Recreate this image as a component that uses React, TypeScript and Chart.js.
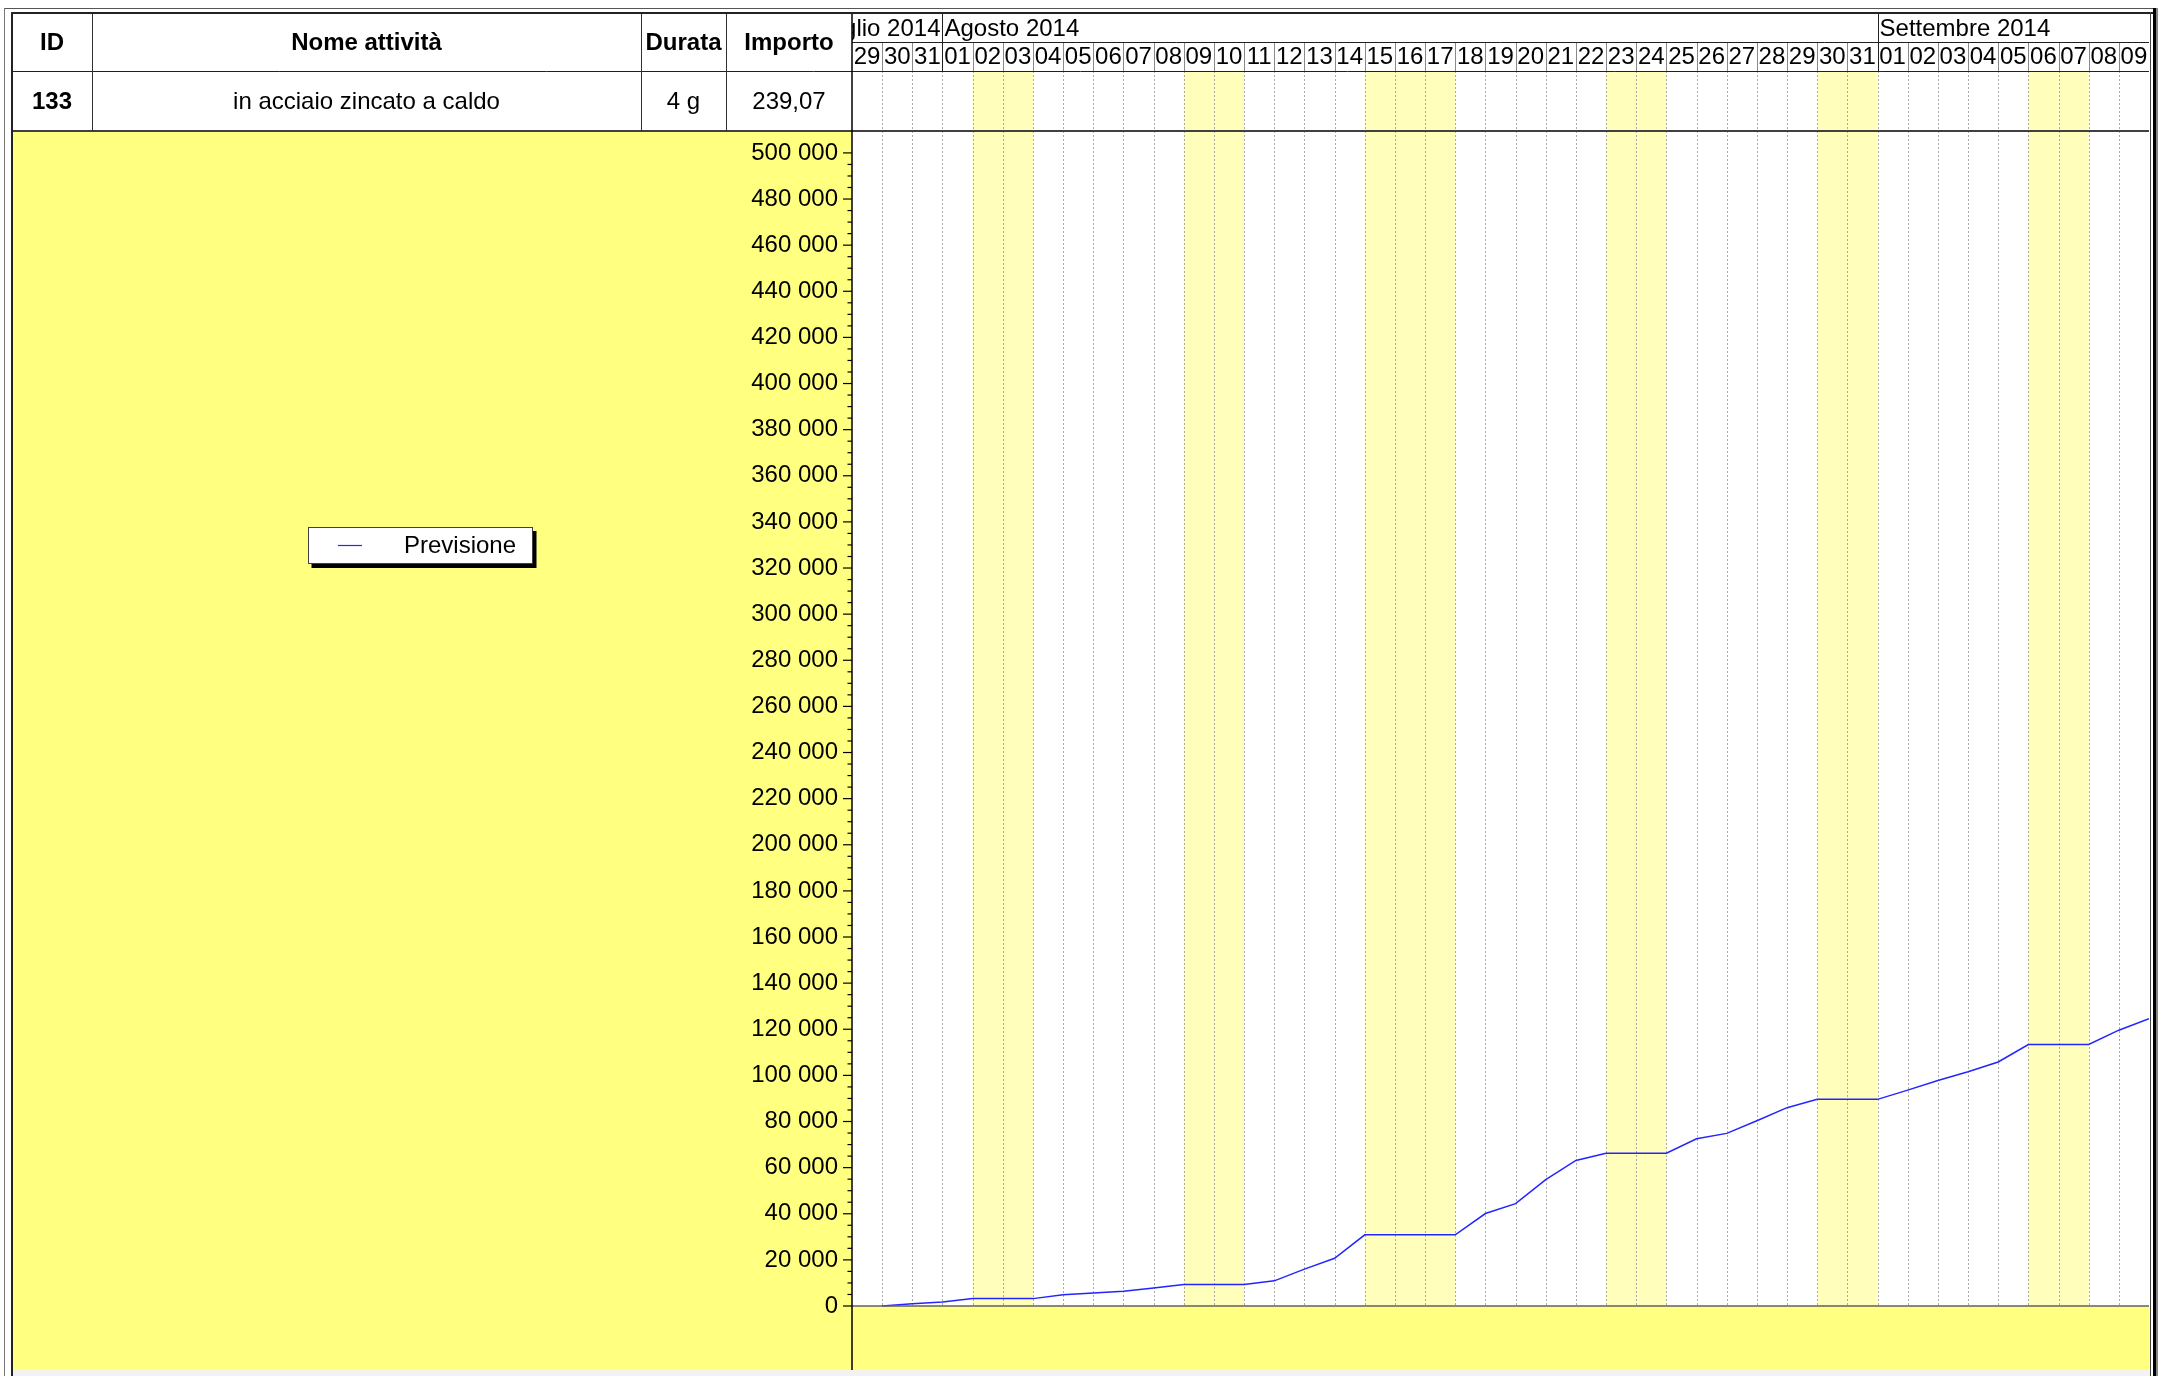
import React, { useEffect, useRef } from "react";
import { Chart, registerables } from "chart.js";

Chart.register(...registerables);

const FONT = '"Liberation Sans", Arial, Helvetica, sans-serif';
const FS = 24;

// ---- data ----
const headerColumns = ["ID", "Nome attività", "Durata", "Importo"];
const taskRow = ["133", "in acciaio zincato a caldo", "4 g", "239,07"];
const monthLabels = ["Luglio 2014", "Agosto 2014", "Settembre 2014"];
const monthDayCounts = [3, 31, 9];
const dayLabels = [
  "29", "30", "31",
  "01", "02", "03", "04", "05", "06", "07", "08", "09", "10",
  "11", "12", "13", "14", "15", "16", "17", "18", "19", "20",
  "21", "22", "23", "24", "25", "26", "27", "28", "29", "30", "31",
  "01", "02", "03", "04", "05", "06", "07", "08", "09",
];
// column indexes of non-working days (weekends + Ferragosto)
const nonWorkingDays = [4, 5, 11, 12, 17, 18, 19, 25, 26, 32, 33, 39, 40];
// cumulative forecast at the end of each day column
const previsione = [
  0, 1000, 1700, 3200, 3200, 3200, 4900, 5600, 6400, 7800,
  9300, 9300, 9300, 10900, 16000, 20700, 30850, 30850, 30850, 30850,
  40100, 44400, 54800, 63100, 66250, 66250, 66250, 72500, 74850, 80300,
  86000, 89600, 89600, 89600, 93600, 97800, 101600, 105800, 113400, 113400,
  113400, 119600, 124600,
];
const yTickValues = [
  0, 20000, 40000, 60000, 80000, 100000, 120000, 140000, 160000, 180000,
  200000, 220000, 240000, 260000, 280000, 300000, 320000, 340000, 360000,
  380000, 400000, 420000, 440000, 460000, 480000, 500000,
];
const seriesLabel = "Previsione";
const seriesColor = "#2424ff";

// ---- layout (page pixels) ----
const CANVAS_LEFT = 12;
const CANVAS_TOP = 13;
const CANVAS_W = 2138;
const CANVAS_H = 1357;
const MONTH_BOTTOM = 29; // canvas coords
const DAY_BOTTOM = 58;
const ROW_BOTTOM = 118;
const tableEdges = [12, 92, 641, 726, 852]; // page x
const Y_MIN = -27750;
const Y_MAX = 509500;

const fmt = (v: number) => String(v).replace(/\B(?=(\d{3})+(?!\d))/g, " ");

const ganttPlugin = {
  id: "gantt",
  beforeDraw(chart: any) {
    const { ctx, chartArea: ca, scales } = chart;
    const x = scales.x;
    const y = scales.y;
    const n = dayLabels.length;
    const x0 = x.getPixelForValue(0);
    const x1 = x.getPixelForValue(n);
    const zeroY = y.getPixelForValue(0);
    ctx.save();
    // left yellow panel
    ctx.fillStyle = "#ffff80";
    ctx.fillRect(0, ca.top, ca.left, ca.bottom - ca.top);
    // gantt white
    ctx.fillStyle = "#ffffff";
    ctx.fillRect(x0, 0, x1 - x0, zeroY);
    // non working days
    ctx.fillStyle = "#ffffbb";
    nonWorkingDays.forEach((i) => {
      const a = x.getPixelForValue(i);
      const b = x.getPixelForValue(i + 1);
      ctx.fillRect(a, DAY_BOTTOM, b - a, zeroY - DAY_BOTTOM);
    });
    // below zero
    ctx.fillStyle = "#ffff80";
    ctx.fillRect(x0, zeroY, x1 - x0, ca.bottom - zeroY);
    // dashed day lines
    ctx.strokeStyle = "#a8a8a8";
    ctx.lineWidth = 1;
    ctx.setLineDash([2, 2]);
    for (let i = 1; i < n; i++) {
      const px = Math.round(x.getPixelForValue(i)) + 0.5;
      ctx.beginPath();
      ctx.moveTo(px, DAY_BOTTOM);
      ctx.lineTo(px, zeroY);
      ctx.stroke();
    }
    ctx.setLineDash([]);
    // day header separators
    const monthBounds: number[] = [];
    let acc = 0;
    monthDayCounts.forEach((c) => {
      acc += c;
      monthBounds.push(acc);
    });
    for (let i = 1; i < n; i++) {
      const px = Math.round(x.getPixelForValue(i)) + 0.5;
      const isMonth = monthBounds.includes(i);
      ctx.strokeStyle = isMonth ? "#202020" : "#8a8a8a";
      ctx.beginPath();
      ctx.moveTo(px, isMonth ? 0 : MONTH_BOTTOM);
      ctx.lineTo(px, DAY_BOTTOM);
      ctx.stroke();
    }
    // day labels
    ctx.fillStyle = "#000";
    ctx.font = `${FS}px ${FONT}`;
    ctx.textAlign = "center";
    ctx.textBaseline = "middle";
    dayLabels.forEach((d, i) => {
      ctx.fillText(d, x.getPixelForValue(i + 0.5), (MONTH_BOTTOM + DAY_BOTTOM) / 2 + 1);
    });
    // month labels
    let start = 0;
    monthLabels.forEach((m, k) => {
      const a = x.getPixelForValue(start);
      const b = x.getPixelForValue(start + monthDayCounts[k]);
      ctx.save();
      ctx.beginPath();
      ctx.rect(a, 0, b - a, MONTH_BOTTOM);
      ctx.clip();
      const w = ctx.measureText(m).width;
      if (w > b - a - 4) {
        ctx.textAlign = "right";
        ctx.fillText(m, b - 2, 16);
      } else {
        ctx.textAlign = "left";
        ctx.fillText(m, a + 2, 16);
      }
      ctx.restore();
      start += monthDayCounts[k];
    });
    ctx.restore();
  },
  afterDraw(chart: any) {
    const { ctx, chartArea: ca, scales } = chart;
    const x = scales.x;
    const y = scales.y;
    const x0 = x.getPixelForValue(0);
    const x1 = x.getPixelForValue(dayLabels.length);
    const zeroY = y.getPixelForValue(0);
    ctx.save();
    // zero line
    ctx.strokeStyle = "#606060";
    ctx.lineWidth = 1.5;
    ctx.beginPath();
    ctx.moveTo(x0, zeroY);
    ctx.lineTo(x1, zeroY);
    ctx.stroke();
    // header horizontal lines
    ctx.strokeStyle = "#202020";
    ctx.lineWidth = 1;
    ctx.beginPath();
    ctx.moveTo(x0, MONTH_BOTTOM + 0.5);
    ctx.lineTo(x1, MONTH_BOTTOM + 0.5);
    ctx.moveTo(0, DAY_BOTTOM + 0.5);
    ctx.lineTo(x1, DAY_BOTTOM + 0.5);
    ctx.stroke();
    ctx.strokeStyle = "#404040";
    ctx.lineWidth = 2;
    ctx.beginPath();
    ctx.moveTo(0, ROW_BOTTOM);
    ctx.lineTo(x1, ROW_BOTTOM);
    ctx.stroke();
    // table vertical lines
    ctx.strokeStyle = "#303030";
    ctx.lineWidth = 1;
    tableEdges.slice(1, 4).forEach((px) => {
      const cx = px - CANVAS_LEFT + 0.5;
      ctx.beginPath();
      ctx.moveTo(cx, 0);
      ctx.lineTo(cx, ROW_BOTTOM);
      ctx.stroke();
    });
    // y axis line
    ctx.strokeStyle = "#000";
    ctx.lineWidth = 1.5;
    ctx.beginPath();
    ctx.moveTo(ca.left, 0);
    ctx.lineTo(ca.left, ca.bottom);
    ctx.stroke();
    // ticks
    ctx.lineWidth = 1.2;
    for (let k = 0; k < yTickValues.length; k++) {
      const v = yTickValues[k];
      const py = y.getPixelForValue(v);
      ctx.beginPath();
      ctx.moveTo(ca.left - 9, py);
      ctx.lineTo(ca.left, py);
      ctx.stroke();
      if (k < yTickValues.length - 1) {
        const step = (yTickValues[k + 1] - v) / 4;
        for (let q = 1; q < 4; q++) {
          const pq = y.getPixelForValue(v + step * q);
          ctx.beginPath();
          ctx.moveTo(ca.left - 4.5, pq);
          ctx.lineTo(ca.left, pq);
          ctx.stroke();
        }
      }
    }
    // legend
    const ds = chart.data.datasets[0];
    const lx = 296;
    const ly = 514;
    const lw = 225;
    const lh = 37;
    ctx.fillStyle = "#000";
    ctx.fillRect(lx + 3.5, ly + 4, lw, lh);
    ctx.fillStyle = "#fff";
    ctx.fillRect(lx, ly, lw, lh);
    ctx.strokeStyle = "#404040";
    ctx.lineWidth = 1;
    ctx.strokeRect(lx + 0.5, ly + 0.5, lw - 1, lh - 1);
    ctx.strokeStyle = ds.borderColor;
    ctx.lineWidth = 1.2;
    ctx.beginPath();
    ctx.moveTo(lx + 30, ly + lh / 2);
    ctx.lineTo(lx + 54, ly + lh / 2);
    ctx.stroke();
    ctx.fillStyle = "#000";
    ctx.font = `${FS}px ${FONT}`;
    ctx.textAlign = "left";
    ctx.textBaseline = "middle";
    ctx.fillText(ds.label, lx + 96, ly + lh / 2 + 1);
    ctx.restore();
  },
};

function Cell(props: { x0: number; x1: number; y0: number; y1: number; text: string; bold?: boolean }) {
  const { x0, x1, y0, y1, text, bold } = props;
  return (
    <div
      style={{
        position: "absolute",
        left: x0,
        top: y0,
        width: x1 - x0,
        height: y1 - y0,
        display: "flex",
        alignItems: "center",
        justifyContent: "center",
        font: `${bold ? "bold " : ""}${FS}px ${FONT}`,
        color: "#000",
        whiteSpace: "nowrap",
      }}
    >
      {text}
    </div>
  );
}

function Line(props: { l: number; t: number; w: number; h: number; c: string }) {
  return (
    <div style={{ position: "absolute", left: props.l, top: props.t, width: props.w, height: props.h, background: props.c }} />
  );
}

export default function App() {
  const ref = useRef<HTMLCanvasElement | null>(null);

  useEffect(() => {
    if (!ref.current) return;
    const chart = new Chart(ref.current, {
      type: "line",
      data: {
        datasets: [
          {
            label: seriesLabel,
            data: previsione.map((v, i) => ({ x: i + 1, y: v })),
            borderColor: seriesColor,
            borderWidth: 1.5,
            pointRadius: 0,
            tension: 0,
            fill: false,
          },
        ],
      },
      options: {
        animation: false,
        responsive: false,
        devicePixelRatio: 1,
        layout: { padding: { top: ROW_BOTTOM, right: 1, left: 0, bottom: 0 } },
        plugins: { legend: { display: false }, tooltip: { enabled: false } },
        scales: {
          x: { type: "linear", min: 0, max: dayLabels.length, display: false },
          y: {
            type: "linear",
            position: "left",
            min: Y_MIN,
            max: Y_MAX,
            afterBuildTicks: (s: any) => {
              s.ticks = yTickValues.map((v) => ({ value: v }));
            },
            afterFit: (s: any) => {
              s.width = tableEdges[4] - CANVAS_LEFT;
              s.paddingTop = 0;
              s.paddingBottom = 0;
            },
            grid: { display: false, drawTicks: false },
            border: { display: false },
            ticks: {
              autoSkip: false,
              padding: 14,
              color: "#000",
              font: { family: FONT, size: FS },
              callback: (v: any) => fmt(Number(v)),
            },
          },
        },
      } as any,
      plugins: [ganttPlugin],
    });
    return () => chart.destroy();
  }, []);

  const e = tableEdges;
  return (
    <div style={{ position: "fixed", left: 0, top: 0, width: 2159, height: 1376, background: "#fff", overflow: "hidden" }}>
      <canvas
        ref={ref}
        width={CANVAS_W}
        height={CANVAS_H}
        style={{ position: "absolute", left: CANVAS_LEFT, top: CANVAS_TOP, width: CANVAS_W, height: CANVAS_H }}
      />
      {headerColumns.map((h, i) => (
        <Cell key={"h" + i} x0={e[i]} x1={e[i + 1]} y0={13} y1={71} text={h} bold />
      ))}
      {taskRow.map((t, i) => (
        <Cell key={"r" + i} x0={e[i]} x1={e[i + 1]} y0={71} y1={131} text={t} bold={i === 0} />
      ))}
      <Line l={12} t={1370} w={2138} h={6} c="#f2f2f2" />
      {/* outer double border */}
      <Line l={3.5} t={7.5} w={2154} h={1} c="#555" />
      <Line l={10.5} t={11.5} w={2145} h={2} c="#222" />
      <Line l={3.5} t={7.5} w={1} h={1369} c="#777" />
      <Line l={10.5} t={11.5} w={2} h={1365} c="#222" />
      <Line l={2149.5} t={12} w={1.5} h={1364} c="#444" />
      <Line l={2153} t={7.5} w={3} h={1369} c="#000" />
      <Line l={2156} t={7.5} w={1.5} h={1369} c="#888" />
    </div>
  );
}
